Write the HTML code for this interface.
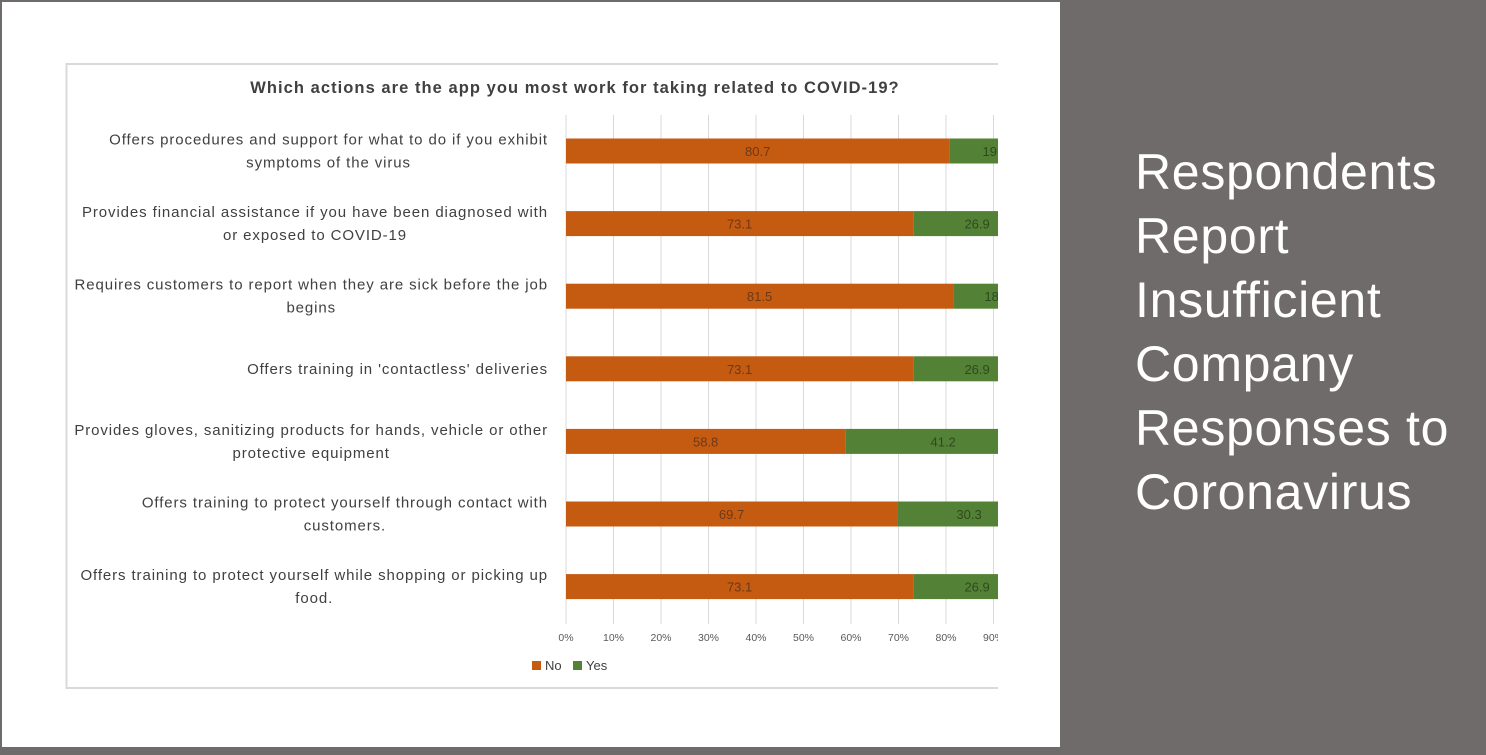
<!DOCTYPE html>
<html><head><meta charset="utf-8">
<style>
body{margin:0;width:1486px;height:755px;background:#6f6b6a;position:relative;overflow:hidden;font-family:"Liberation Sans",sans-serif}
#slide{position:absolute;left:2px;top:2px;width:1058px;height:745px;background:#fff}
#panel-title{position:absolute;left:1135px;top:140px;color:#fff;font-size:50px;line-height:64px;letter-spacing:0.7px;font-family:"Liberation Sans",sans-serif;font-weight:normal}
svg{position:absolute;left:0;top:0}
</style></head><body>
<div id="slide"></div>
<div id="panel-title">Respondents<br>Report<br>Insufficient<br>Company<br>Responses to<br>Coronavirus</div>
<svg id="chart" width="1486" height="755"></svg>
<script>
const categories=[
 ["Offers procedures and support for what to do if you exhibit","symptoms of the virus"],
 ["Provides financial assistance if you have been diagnosed with","or exposed to COVID-19"],
 ["Requires customers to report when they are sick before the job","begins"],
 ["Offers training in 'contactless' deliveries"],
 ["Provides gloves, sanitizing products for hands, vehicle or other","protective equipment"],
 ["Offers training to protect yourself through contact with","customers."],
 ["Offers training to protect yourself while shopping or picking up","food."]
];
const noValues=[80.7,73.1,81.5,73.1,58.8,69.7,73.1];
const yesValues=[19.3,26.9,18.5,26.9,41.2,30.3,26.9];
const tickLabels=["0%","10%","20%","30%","40%","50%","60%","70%","80%","90%"];
const tickValues=[0,10,20,30,40,50,60,70,80,90];

const NS="http://www.w3.org/2000/svg";
const svg=document.getElementById('chart');
const x0=566,pxPer=4.75,clipR=998;
const x=v=>x0+v*pxPer;
const yC=i=>151+i*72.6;
function mk(t,a,p){const e=document.createElementNS(NS,t);for(const k in a)e.setAttribute(k,a[k]);(p||svg).appendChild(e);return e;}
const defs=mk('defs',{});
const cp=mk('clipPath',{id:'cp'},defs);
mk('rect',{x:0,y:0,width:clipR,height:755},cp);
const frame=mk('path',{d:'M998 64 H66.5 V688 H998',fill:'none',stroke:'#d9d9d9','stroke-width':2});


const title=mk('text',{x:575,y:93,'text-anchor':'middle','font-size':16.5,'font-weight':'bold','letter-spacing':1.05,fill:'#404040'});
title.textContent='Which actions are the app you most work for taking related to COVID-19?';


const g=mk('g',{'clip-path':'url(#cp)'});
tickValues.forEach((t,i)=>{
 const l=mk('line',{x1:x(t),x2:x(t),y1:115,y2:624,stroke:'#d9d9d9','stroke-width':1},g);
 
 
 const tx=mk('text',{x:x(t),y:641,'text-anchor':'middle','font-size':10.5,fill:'#595959'},g);
 tx.textContent=tickLabels[i];
 
 
});
categories.forEach((c,i)=>{
 const cy=yC(i);
 const lines=c.length;
 c.forEach((s,j)=>{
  const t=mk('text',{x:(lines===1||j===0)?548:0,y:cy-(lines-1)*11.5+j*23+5,'text-anchor':'end','font-size':15,'letter-spacing':0.9,fill:'#404040'});
  t.textContent=s;
  
  
 });
 const b1=mk('rect',{x:x(0),y:cy-12.5,width:x(noValues[i])-x(0),height:25,fill:'#c55a11'},g);
 
 
 const b2=mk('rect',{x:x(noValues[i]),y:cy-12.5,width:yesValues[i]*pxPer,height:25,fill:'#538135'},g);
 
 
 const l1=mk('text',{x:(x(0)+x(noValues[i]))/2,y:cy+5,'text-anchor':'middle','font-size':13,fill:'#6b3a1a'},g);
 l1.textContent=noValues[i].toFixed(1);
 
 
 const l2=mk('text',{x:x(noValues[i]+yesValues[i]/2),y:cy+5,'text-anchor':'middle','font-size':13,fill:'#2e4a1d'},g);
 l2.textContent=yesValues[i].toFixed(1);
 
 
});
svg.querySelectorAll('text[x="0"]').forEach(t=>{
 const prev=t.previousSibling;const bb=prev.getBBox();
 t.setAttribute('x',bb.x+bb.width/2);t.setAttribute('text-anchor','middle');
});
const lg1=mk('rect',{x:532,y:661,width:9,height:9,fill:'#c55a11'});


const lt1=mk('text',{x:545,y:670,'font-size':13,fill:'#404040'});lt1.textContent='No';


const lg2=mk('rect',{x:573,y:661,width:9,height:9,fill:'#538135'});


const lt2=mk('text',{x:586,y:670,'font-size':13,fill:'#404040'});lt2.textContent='Yes';


</script>
</body></html>
